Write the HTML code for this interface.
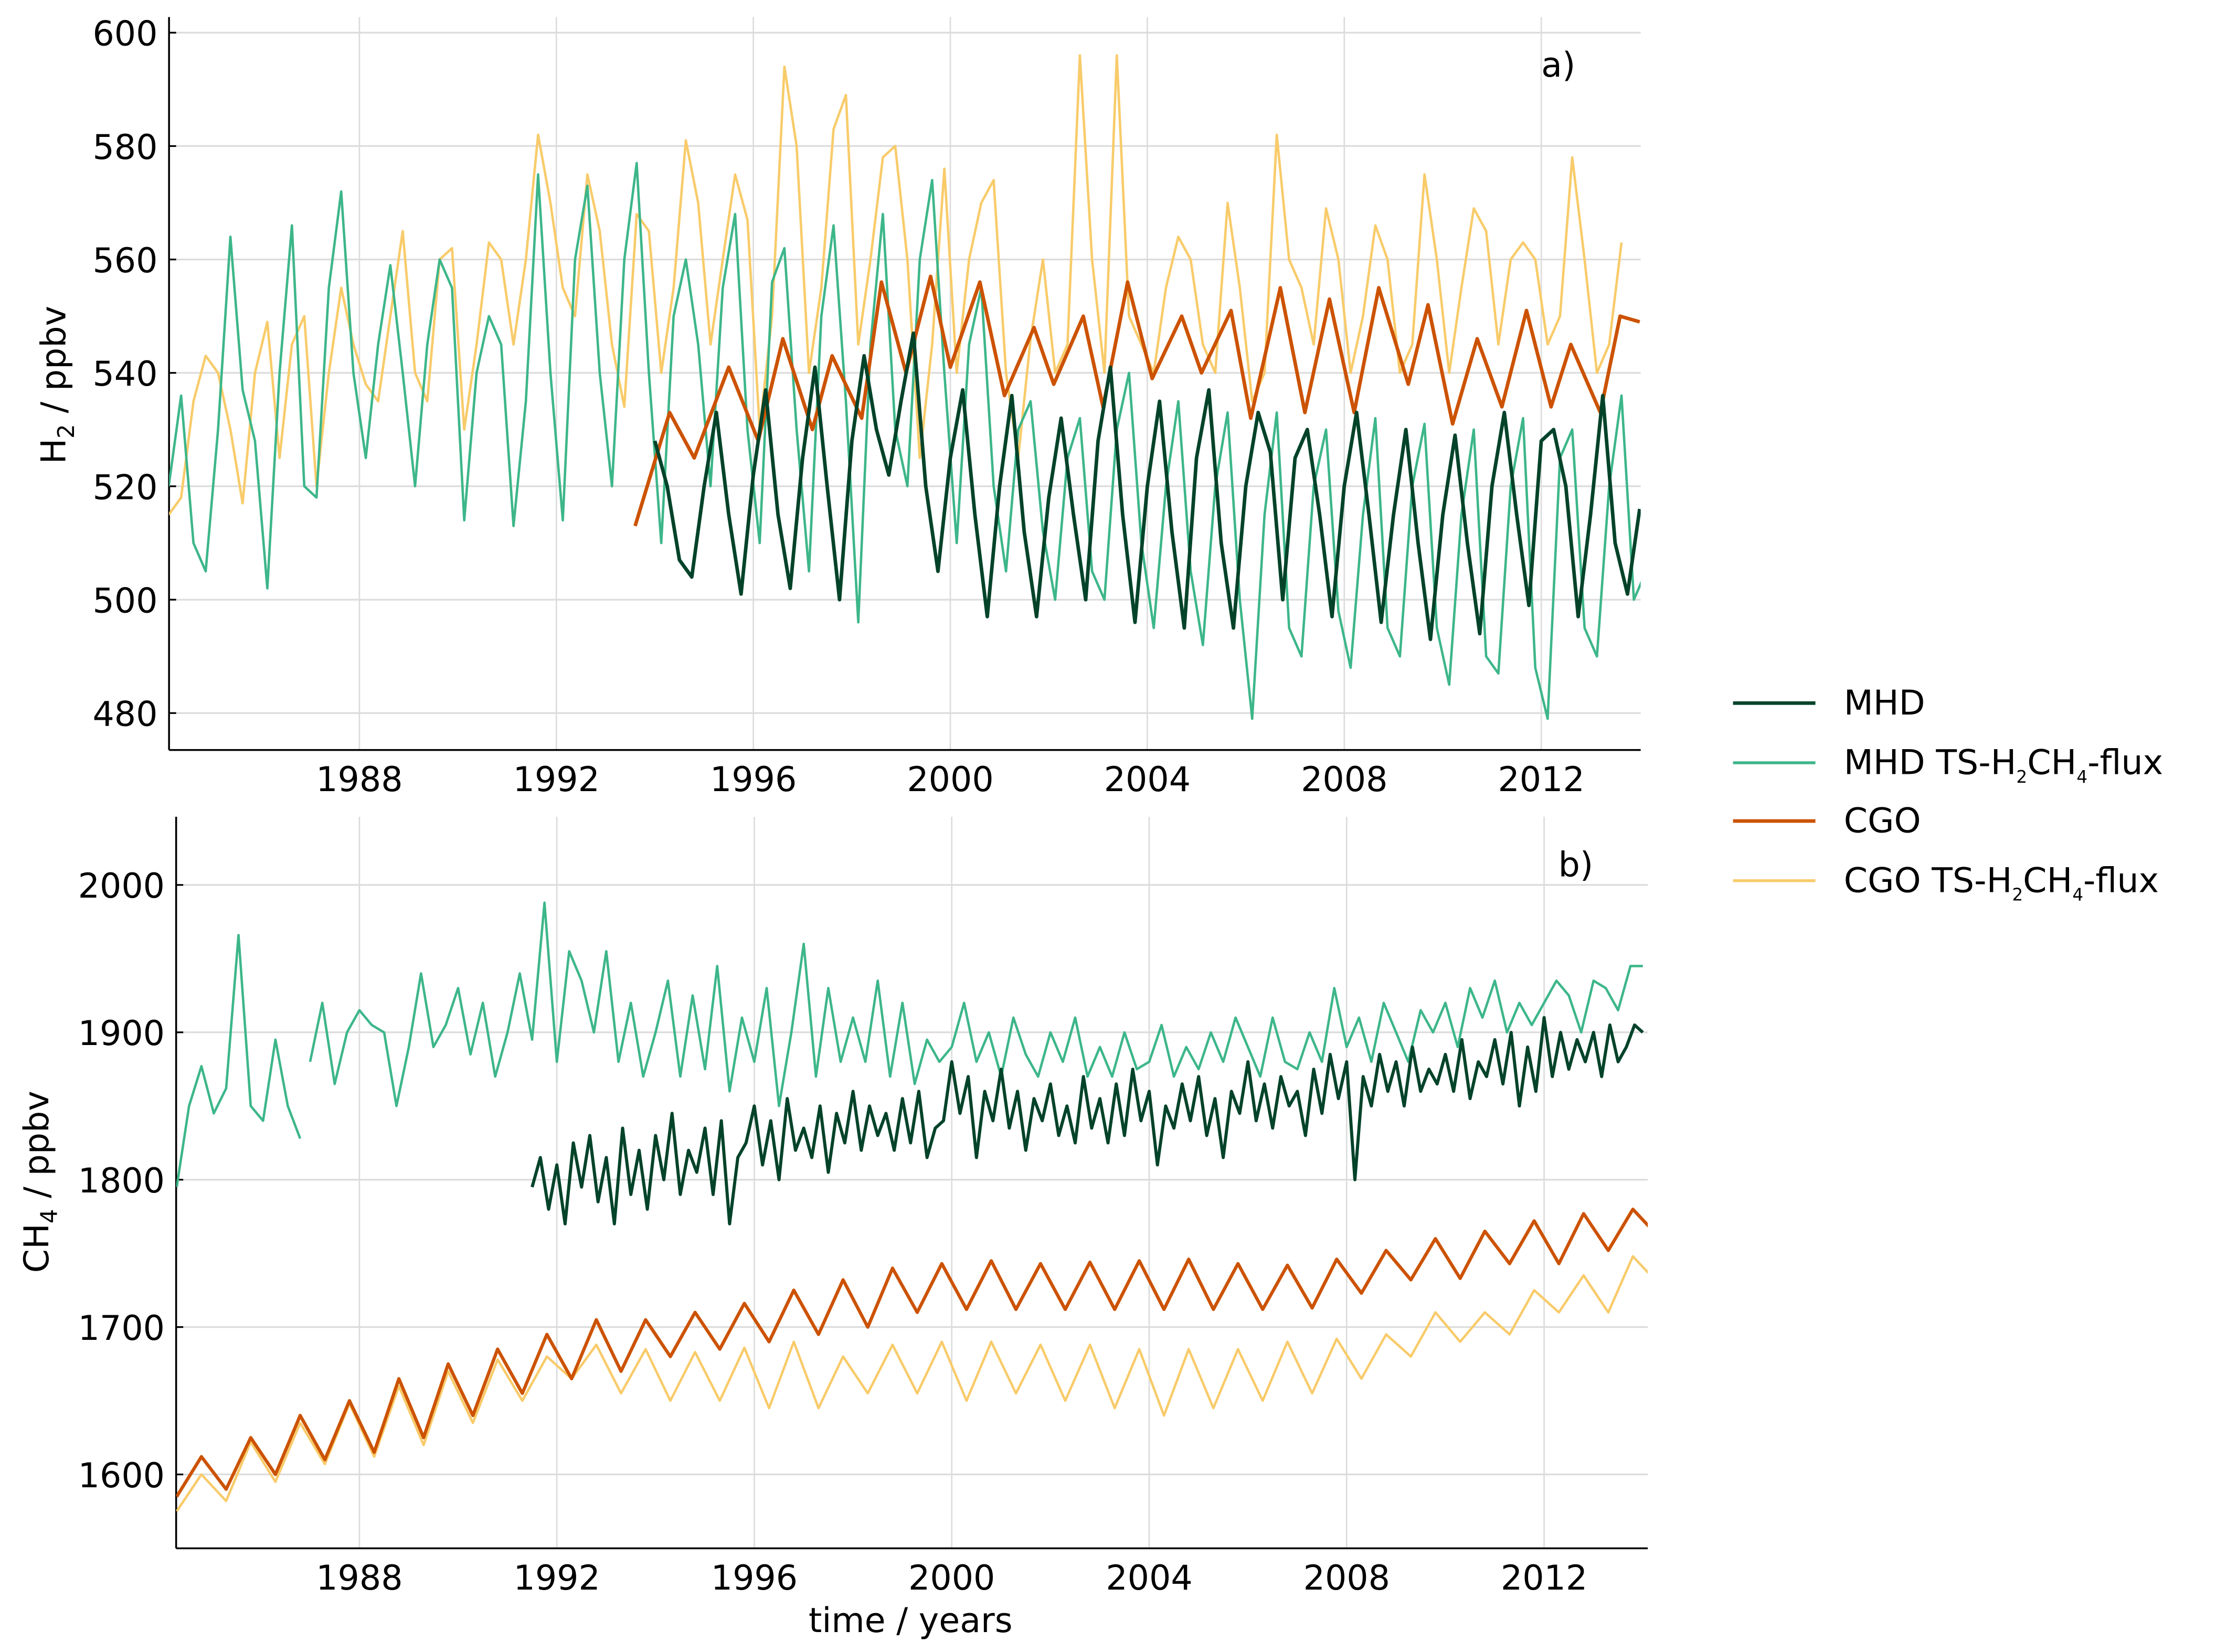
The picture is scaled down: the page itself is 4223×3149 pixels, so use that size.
<!DOCTYPE html>
<html><head><meta charset="utf-8"><style>
html,body{margin:0;padding:0;background:#fff;}
svg{display:block;font-family:"DejaVu Sans","Liberation Sans",sans-serif;}
</style></head>
<body>
<svg id="chart" width="4223" height="3149" viewBox="0 0 1560 1163" preserveAspectRatio="none" xmlns="http://www.w3.org/2000/svg">
<g id="pa"></g>
<g id="pb"></g>
<text x="1085" y="54" font-size="24">a)</text>
<text x="1097" y="617" font-size="24">b)</text>
<text transform="translate(46,271) rotate(-90)" text-anchor="middle" font-size="24">H<tspan font-size="16" dy="6">2</tspan><tspan dy="-6"> / ppbv</tspan></text>
<text transform="translate(34,832) rotate(-90)" text-anchor="middle" font-size="24">CH<tspan font-size="16" dy="6">4</tspan><tspan dy="-6"> / ppbv</tspan></text>
<text x="641" y="1149" text-anchor="middle" font-size="24">time / years</text>
<g font-size="24">
 <g><line x1="1220" y1="495" x2="1278" y2="495" stroke="#02432a" stroke-width="2.5"/><text x="1298" y="503">MHD</text></g>
 <g><line x1="1220" y1="537" x2="1278" y2="537" stroke="#3db68a" stroke-width="2"/><text x="1298" y="545">MHD TS-H<tspan font-size="12" dy="6">2</tspan><tspan dy="-6">CH</tspan><tspan font-size="12" dy="6">4</tspan><tspan dy="-6">-flux</tspan></text></g>
 <g><line x1="1220" y1="578" x2="1278" y2="578" stroke="#cc5200" stroke-width="2.5"/><text x="1298" y="586">CGO</text></g>
 <g><line x1="1220" y1="620" x2="1278" y2="620" stroke="#f8cb6a" stroke-width="2"/><text x="1298" y="628">CGO TS-H<tspan font-size="12" dy="6">2</tspan><tspan dy="-6">CH</tspan><tspan font-size="12" dy="6">4</tspan><tspan dy="-6">-flux</tspan></text></g>
</g>
</svg>
<script>
// ---------- Panel a data (H2) ----------
const xTicks = [1988, 1992, 1996, 2000, 2004, 2008, 2012];
const h2Ticks = [480, 500, 520, 540, 560, 580, 600];
const ch4Ticks = [1600, 1700, 1800, 1900, 2000];
const h2MhdStart = 1994.0;
const h2MhdValues = [528,520,507,504, 520,533,515,501, 522,537,515,502, 525,541,520,500, 528,543,530,522, 535,547,520,505, 525,537,515,497, 520,536,512,497, 518,532,515,500, 528,541,515,496, 520,535,512,495, 525,537,510,495, 520,533,526,500, 525,530,515,497, 520,533,515,496, 515,530,510,493, 515,529,510,494, 520,533,515,499, 528,530,520,497, 515,536,510,501, 516];
const h2MhdTsStart = 1984.13;
const h2MhdTsValues = [520,536,510,505, 530,564,537,528, 502,540,566,520, 518,555,572,540, 525,545,559,540, 520,545,560,555, 514,540,550,545, 513,535,575,540, 514,560,573,540, 520,560,577,540, 510,550,560,545, 520,555,568,530, 510,556,562,530, 505,550,566,535, 496,545,568,530, 520,560,574,540, 510,545,555,520, 505,530,535,512, 500,525,532,505, 500,530,540,510, 495,520,535,505, 492,520,533,500, 479,515,533,495, 490,520,530,498, 488,515,532,495, 490,520,531,495, 485,515,530,490, 487,520,532,488, 479,525,530,495, 490,520,536,500, 505];
const h2CgoYears = [1993.6,1994.3,1994.8,1995.5,1996.1,1996.6,1997.2,1997.6,1998.2,1998.6,1999.1,1999.6,2000.0,2000.6,2001.1,2001.7,2002.1,2002.7,2003.1,2003.6,2004.1,2004.7,2005.1,2005.7,2006.1,2006.7,2007.2,2007.7,2008.2,2008.7,2009.3,2009.7,2010.2,2010.7,2011.2,2011.7,2012.2,2012.6,2013.2,2013.6,2014.0];
const h2CgoValues = [513,533,525,541,528,546,530,543,532,556,540,557,541,556,536,548,538,550,534,556,539,550,540,551,532,555,533,553,533,555,538,552,531,546,534,551,534,545,533,550,549];
const h2CgoTsStart = 1984.13;
const h2CgoTsValues = [515,518,535,543, 540,530,517,540, 549,525,545,550, 520,540,555,545, 538,535,550,565, 540,535,560,562, 530,545,563,560, 545,560,582,570, 555,550,575,565, 545,534,568,565, 540,555,581,570, 545,560,575,567, 530,550,594,580, 540,555,583,589, 545,560,578,580, 560,525,545,576, 540,560,570,574, 540,525,546,560, 540,545,596,560, 540,596,550,545, 540,555,564,560, 545,540,570,555, 535,540,582,560, 555,545,569,560, 540,550,566,560, 540,545,575,560, 540,555,569,565, 545,560,563,560, 545,550,578,560, 540,545,563];

// ---------- Panel b data (CH4) ----------
const ch4MhdTsAStart = 1984.3;
const ch4MhdTsAValues = [1795,1850,1877,1845,1862,1966,1850,1840,1895,1850,1828];
const ch4MhdTsBStart = 1987.0;
const ch4MhdTsBValues = [1880,1920,1865,1900, 1915,1905,1900,1850, 1890,1940,1890,1905, 1930,1885,1920,1870, 1900,1940,1895,1988, 1880,1955,1935,1900, 1955,1880,1920,1870, 1900,1935,1870,1925, 1875,1945,1860,1910, 1880,1930,1850,1900, 1960,1870,1930,1880, 1910,1880,1935,1870, 1920,1865,1895,1880, 1890,1920,1880,1900, 1870,1910,1885,1870, 1900,1880,1910,1870, 1890,1870,1900,1875, 1880,1905,1870,1890, 1875,1900,1880,1910, 1890,1870,1910,1880, 1875,1900,1880,1930, 1890,1910,1880,1920, 1900,1880,1915,1900, 1920,1890,1930,1910, 1935,1900,1920,1905, 1920,1935,1925,1900, 1935,1930,1915,1945, 1945];
const ch4MhdStart = 1991.5;
const ch4MhdValues = [1795,1815,1780, 1810,1770,1825,1795,1830,1785, 1815,1770,1835,1790,1820,1780, 1830,1800,1845,1790,1820,1805, 1835,1790,1840,1770,1815,1825, 1850,1810,1840,1800,1855,1820, 1835,1815,1850,1805,1845,1825, 1860,1820,1850,1830,1845,1820, 1855,1825,1860,1815,1835,1840, 1880,1845,1870,1815,1860,1840, 1875,1835,1860,1820,1855,1840, 1865,1830,1850,1825,1870,1835, 1855,1825,1865,1830,1875,1840, 1860,1810,1850,1835,1865,1840, 1870,1830,1855,1815,1860,1845, 1880,1840,1865,1835,1870,1850, 1860,1830,1875,1845,1885,1855, 1880,1800,1870,1850,1885,1860, 1880,1850,1890,1860,1875,1865, 1885,1860,1895,1855,1880,1870, 1895,1865,1900,1850,1890,1860, 1910,1870,1900,1875,1895,1880, 1900,1870,1905,1880,1890,1905, 1900];
const ch4CgoStart = 1984.3;
const ch4CgoValues = [1585,1612, 1590,1625, 1600,1640, 1610,1650, 1615,1665, 1625,1675, 1640,1685, 1655,1695, 1665,1705, 1670,1705, 1680,1710, 1685,1716, 1690,1725, 1695,1732, 1700,1740, 1710,1743, 1712,1745, 1712,1743, 1712,1744, 1712,1745, 1712,1746, 1712,1743, 1712,1742, 1713,1746, 1723,1752, 1732,1760, 1733,1765, 1743,1772, 1743,1777, 1752,1780, 1762];
const ch4CgoTsStart = 1984.3;
const ch4CgoTsValues = [1575,1600, 1582,1622, 1595,1635, 1607,1648, 1612,1660, 1620,1670, 1635,1678, 1650,1680, 1665,1688, 1655,1685, 1650,1683, 1650,1686, 1645,1690, 1645,1680, 1655,1688, 1655,1690, 1650,1690, 1655,1688, 1650,1688, 1645,1685, 1640,1685, 1645,1685, 1650,1690, 1655,1692, 1665,1695, 1680,1710, 1690,1710, 1695,1725, 1710,1735, 1710,1748, 1730];

const NS = 'http://www.w3.org/2000/svg';
function mk(tag, attrs, parent) {
  const e = document.createElementNS(NS, tag);
  for (const k in attrs) e.setAttribute(k, attrs[k]);
  parent.appendChild(e);
  return e;
}
function axis(x0, x1, y0, y1, ymin, ymax, xmin, xmax) {
  return {
    x: t => x0 + (t - xmin) / (xmax - xmin) * (x1 - x0),
    y: v => y1 - (v - ymin) / (ymax - ymin) * (y1 - y0)
  };
}
const A = { left: 119, right: 1155, top: 12, bottom: 528 };
const ax = axis(253, 1085, 23, 502, 480, 600, 1988, 2012);
const B = { left: 124, right: 1160, top: 575, bottom: 1090 };
const bx = axis(253, 1087, 623, 1038, 1600, 2000, 1988, 2012);

function frame(g, P, sc, yt, name) {
  xTicks.forEach(t => {
    const l = mk('line', { x1: sc.x(t), x2: sc.x(t), y1: P.top, y2: P.bottom, stroke: '#dcdcdc', 'stroke-width': 1 }, g);
    
    
    const tx = mk('text', { x: sc.x(t), y: P.bottom + 29, 'text-anchor': 'middle', 'font-size': 24 }, g);
    tx.textContent = t;
    
    
  });
  yt.forEach(v => {
    const l = mk('line', { x1: P.left, x2: P.right, y1: sc.y(v), y2: sc.y(v), stroke: '#dcdcdc', 'stroke-width': 1.2 }, g);
    
    
    const tk = mk('line', { x1: P.left, x2: P.left + 5, y1: sc.y(v), y2: sc.y(v), stroke: '#000', 'stroke-width': 1.2 }, g);
    
    
    const tx = mk('text', { x: P.left - 8, y: sc.y(v) + 9, 'text-anchor': 'end', 'font-size': 24 }, g);
    tx.textContent = v;
    
    
  });
  const s1 = mk('line', { x1: P.left, x2: P.left, y1: P.top, y2: P.bottom, stroke: '#000', 'stroke-width': 1.3 }, g);
  
  
  const s2 = mk('line', { x1: P.left, x2: P.right, y1: P.bottom, y2: P.bottom, stroke: '#000', 'stroke-width': 1.3 }, g);
  
  
}
function lineFrom(g, sc, P, times, vals, color, w, name) {
  const pts = vals.map((v, i) => [sc.x(times[i]), sc.y(v)]);
  const d = pts.map((p, i) => (i ? 'L' : 'M') + p[0].toFixed(1) + ' ' + p[1].toFixed(1)).join(' ');
  const p = mk('path', { d: d, fill: 'none', stroke: color, 'stroke-width': w, 'stroke-linejoin': 'round', 'clip-path': 'url(#clip-' + g.id + ')' }, g);
  
  
}
function grid(start, step, n) { const t = []; for (let i = 0; i < n; i++) t.push(start + i * step); return t; }

const svg = document.getElementById('chart');
const defs = mk('defs', {}, svg);
[['pa', A], ['pb', B]].forEach(([id, P]) => {
  const cp = mk('clipPath', { id: 'clip-' + id }, defs);
  mk('rect', { x: P.left, y: P.top, width: P.right - P.left, height: P.bottom - P.top }, cp);
});

const ga = document.getElementById('pa');
frame(ga, A, ax, h2Ticks, 'panel-a');
lineFrom(ga, ax, A, grid(h2CgoTsStart, 0.25, h2CgoTsValues.length), h2CgoTsValues, '#f8cb6a', 1.7, 'h2-cgo-ts-line');
lineFrom(ga, ax, A, grid(h2MhdTsStart, 0.25, h2MhdTsValues.length), h2MhdTsValues, '#3db68a', 1.7, 'h2-mhd-ts-line');
lineFrom(ga, ax, A, h2CgoYears, h2CgoValues, '#cc5200', 2.5, 'h2-cgo-line');
lineFrom(ga, ax, A, grid(h2MhdStart, 0.25, h2MhdValues.length), h2MhdValues, '#02432a', 2.5, 'h2-mhd-line');

const gb = document.getElementById('pb');
frame(gb, B, bx, ch4Ticks, 'panel-b');
lineFrom(gb, bx, B, grid(ch4MhdTsAStart, 0.25, ch4MhdTsAValues.length), ch4MhdTsAValues, '#3db68a', 1.7, 'ch4-mhd-ts-line-early');
lineFrom(gb, bx, B, grid(ch4MhdTsBStart, 0.25, ch4MhdTsBValues.length), ch4MhdTsBValues, '#3db68a', 1.7, 'ch4-mhd-ts-line');
lineFrom(gb, bx, B, grid(ch4MhdStart, 1/6, ch4MhdValues.length), ch4MhdValues, '#02432a', 2.2, 'ch4-mhd-line');
lineFrom(gb, bx, B, grid(ch4CgoTsStart, 0.5, ch4CgoTsValues.length), ch4CgoTsValues, '#f8cb6a', 1.7, 'ch4-cgo-ts-line');
lineFrom(gb, bx, B, grid(ch4CgoStart, 0.5, ch4CgoValues.length), ch4CgoValues, '#cc5200', 2.3, 'ch4-cgo-line');
</script>
</body></html>
